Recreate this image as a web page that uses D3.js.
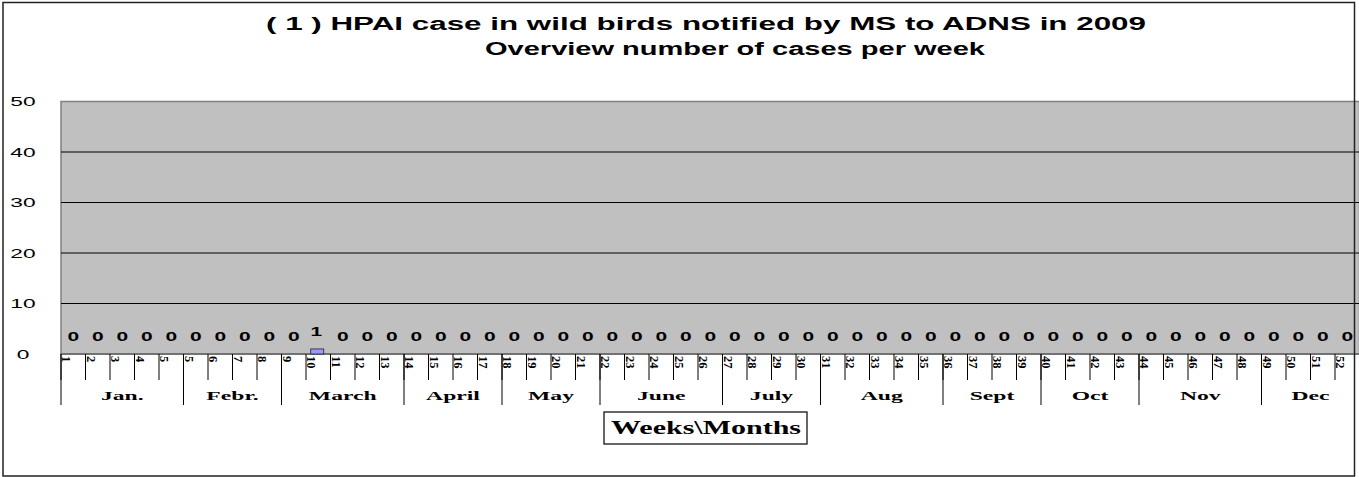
<!DOCTYPE html>
<html>
<head>
<meta charset="utf-8">
<script src="https://cdn.jsdelivr.net/npm/d3@7"></script>
<style>
  body { margin: 0; background: #fff; }
</style>
</head>
<body>
<div id="chart"></div>
<script>
// data
const weekLabels = ["1","2","3","4","5","5","6","7","8","9","10","11","12","13","14","15","16","17",
  "18","19","20","21","22","23","24","25","26","27","28","29","30","31","32","33","34","35",
  "36","37","38","39","40","41","42","43","44","45","46","47","48","49","50","51","52"];
const cases = [0,0,0,0,0,0,0,0,0,0,1,0,0,0,0,0,0,0,
  0,0,0,0,0,0,0,0,0,0,0,0,0,0,0,0,0,0,
  0,0,0,0,0,0,0,0,0,0,0,0,0,0,0,0,0];
const months = ["Jan.","Febr.","March","April","May","June","July","Aug","Sept","Oct","Nov","Dec"];
const monthWeeks = [5,4,5,4,4,5,4,5,4,4,5,4];
const yTicks = [0,10,20,30,40,50];
const titleLines = ["( 1 ) HPAI case in wild birds notified by MS to ADNS in 2009",
  "Overview number of cases per week"];
const axisTitle = "Weeks\\Months";

const width = 1359, height = 477;
const plot = { left: 61, right: 1359.5, top: 101.5, bottom: 354 };
const SX = 1.75; // text in the original is stretched horizontally
const sans = "'Liberation Sans', Arial, sans-serif";
const serif = "'Liberation Serif', 'Times New Roman', serif";

const svg = d3.select("#chart")
  .append("svg")
  .attr("width", width)
  .attr("height", height);

const xScale = d3.scaleBand()
  .domain(d3.range(weekLabels.length))
  .range([plot.left, plot.right])
  .padding(0);

const yScale = d3.scaleLinear()
  .domain([0, 50])
  .range([plot.bottom, plot.top]);

const step = xScale.step();
const edge = i => plot.left + i * step;

// plot background
svg.append("rect")
  .attr("x", plot.left)
  .attr("y", plot.top)
  .attr("width", plot.right - plot.left)
  .attr("height", plot.bottom - plot.top)
  .attr("fill", "#c0c0c0")
  .attr("stroke", "#808080")
  .attr("stroke-width", 1.5);

// gridlines
svg.selectAll(".grid")
  .data(yTicks.filter(d => d > 0 && d < 50))
  .enter()
  .append("line")
  .attr("class", "grid")
  .attr("x1", plot.left)
  .attr("x2", plot.right)
  .attr("y1", d => yScale(d))
  .attr("y2", d => yScale(d))
  .attr("stroke", "#000")
  .attr("stroke-width", 1);

// zero line
svg.append("line")
  .attr("x1", plot.left).attr("x2", plot.right)
  .attr("y1", yScale(0)).attr("y2", yScale(0))
  .attr("stroke", "#666").attr("stroke-width", 1.5);

// y labels
svg.selectAll(".ylab")
  .data(yTicks)
  .enter()
  .append("text")
  .attr("class", "ylab")
  .attr("transform", d => `translate(23,${yScale(d) + 4.5}) scale(${SX},1)`)
  .attr("text-anchor", "middle")
  .attr("font-family", sans)
  .attr("font-size", "13px")
  .text(d => d);

// bars
const barW = xScale.bandwidth() * 0.53;
svg.selectAll(".bar")
  .data(cases.map((v, i) => ({ i, v })).filter(d => d.v > 0))
  .enter()
  .append("rect")
  .attr("class", "bar")
  .attr("x", d => xScale(d.i) + (xScale.bandwidth() - barW) / 2 - 1)
  .attr("y", d => yScale(d.v))
  .attr("width", barW)
  .attr("height", d => yScale(0) - yScale(d.v))
  .attr("fill", "#9999ff")
  .attr("stroke", "#222")
  .attr("stroke-width", 0.8);

// value labels
svg.selectAll(".val")
  .data(cases.map((v, i) => ({ i, v })))
  .enter()
  .append("text")
  .attr("class", "val")
  .attr("transform", d => `translate(${xScale(d.i) + xScale.bandwidth() / 2 - (d.v > 0 ? 2 : 0)},${yScale(d.v) - 13.5 + (d.v > 0 ? 0.5 : 0)}) scale(${SX},1)`)
  .attr("text-anchor", "middle")
  .attr("font-family", sans)
  .attr("font-weight", "bold")
  .attr("font-size", "12px")
  .text(d => d.v);

// week tick lines
svg.selectAll(".wtick")
  .data(d3.range(weekLabels.length + 1))
  .enter()
  .append("line")
  .attr("class", "wtick")
  .attr("x1", d => edge(d))
  .attr("x2", d => edge(d))
  .attr("y1", plot.bottom)
  .attr("y2", plot.bottom + 26)
  .attr("stroke", "#000")
  .attr("stroke-width", 1);

// week labels, rotated
svg.selectAll(".wlab")
  .data(weekLabels)
  .enter()
  .append("text")
  .attr("class", "wlab")
  .attr("transform", (d, i) => `translate(${edge(i) + 1},${plot.bottom + 2}) rotate(90)`)
  .attr("text-anchor", "start")
  .attr("font-family", serif)
  .attr("font-weight", "bold")
  .attr("font-size", "12.5px")
  .text(d => d);

// month separators and labels
const monthStart = [0];
monthWeeks.forEach(n => monthStart.push(monthStart[monthStart.length - 1] + n));

svg.selectAll(".msep")
  .data(monthStart)
  .enter()
  .append("line")
  .attr("class", "msep")
  .attr("x1", d => edge(d))
  .attr("x2", d => edge(d))
  .attr("y1", plot.bottom)
  .attr("y2", plot.bottom + 51)
  .attr("stroke", "#000")
  .attr("stroke-width", 1);

svg.selectAll(".mlab")
  .data(months)
  .enter()
  .append("text")
  .attr("class", "mlab")
  .attr("transform", (d, i) => `translate(${(edge(monthStart[i]) + edge(monthStart[i + 1])) / 2},400) scale(${SX},1)`)
  .attr("text-anchor", "middle")
  .attr("font-family", serif)
  .attr("font-weight", "bold")
  .attr("font-size", "13.5px")
  .text(d => d);

// axis title box
const axCx = 706;
svg.append("rect")
  .attr("x", 604)
  .attr("y", 412)
  .attr("width", 203)
  .attr("height", 32)
  .attr("fill", "#fff")
  .attr("stroke", "#000")
  .attr("stroke-width", 1.2);

svg.append("text")
  .attr("x", axCx)
  .attr("y", 434)
  .attr("text-anchor", "middle")
  .attr("font-family", serif)
  .attr("font-weight", "bold")
  .attr("font-size", "18px")
  .attr("textLength", 190)
  .attr("lengthAdjust", "spacingAndGlyphs")
  .text(axisTitle);

// title
svg.selectAll(".title")
  .data(titleLines)
  .enter()
  .append("text")
  .attr("class", "title")
  .attr("x", (d, i) => i === 0 ? 706 : 735)
  .attr("y", (d, i) => 30 + i * 25)
  .attr("text-anchor", "middle")
  .attr("font-family", sans)
  .attr("font-weight", "bold")
  .attr("font-size", "17.5px")
  .attr("textLength", (d, i) => i === 0 ? 880 : 500)
  .attr("lengthAdjust", "spacingAndGlyphs")
  .text(d => d);

// outer frame
svg.append("rect")
  .attr("x", 3)
  .attr("y", 2.5)
  .attr("width", 1351.5)
  .attr("height", 473.5)
  .attr("fill", "none")
  .attr("stroke", "#222")
  .attr("stroke-width", 1.5);
</script>
</body>
</html>
